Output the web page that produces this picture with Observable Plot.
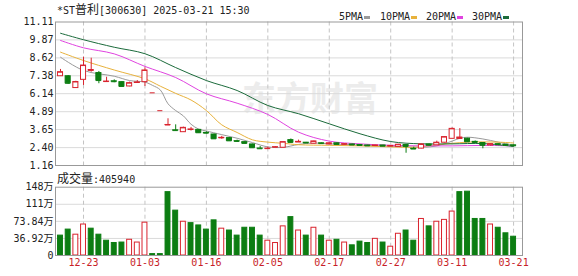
<!DOCTYPE html>
<html><head><meta charset="utf-8">
<script src="https://cdn.jsdelivr.net/npm/d3@7"></script>
<script src="https://cdn.jsdelivr.net/npm/@observablehq/plot@0.6"></script>
<style>
body{margin:0;background:#fff;}
#wrap{position:relative;width:578px;height:276px;overflow:hidden;background:#fff;font-family:"DejaVu Sans Mono","Noto Sans CJK SC",monospace;color:#222;}
.abs{position:absolute;white-space:nowrap;}
.m{font-family:"DejaVu Sans Mono",monospace;font-size:10px;}
.c{font-family:"Noto Sans CJK SC",sans-serif;font-size:12px;}
.sw{position:absolute;width:6px;height:3px;}
#wm{position:absolute;left:242px;top:72px;font-family:"Noto Sans CJK SC";font-weight:bold;font-size:34px;color:#ececec;letter-spacing:0px;}
svg{position:absolute;left:0;}
</style></head>
<body>
<div id="wrap">
  <div id="wm">东方财富</div>
  <div class="abs" id="title" style="left:57px;top:1px;line-height:16px;"><span class="m">*ST</span><span class="c">普利</span><span class="m">[300630] 2025-03-21 15:30</span></div>
  <div id="legend"></div>
  <div class="abs" style="left:57px;top:170px;line-height:16px;"><span class="c">成交量</span><span class="m">:405940</span></div>
</div>
<script>
// ---- data ----
const tickIdx = [3, 11, 19, 27, 35, 43, 51, 59];
const tickLabels = ["12-23", "01-03", "01-16", "02-05", "02-17", "02-27", "03-11", "03-21"];

const open  = [7.35,7.35,6.53,7.10,7.72,7.57,6.96,7.00,6.94,6.64, 6.88,6.94,6.20,4.96,3.96,3.60,3.47,3.64,3.63,3.42, 3.31,3.06,3.06,2.85,2.78,2.62,2.34,2.32,2.42,2.39, 2.92,2.77,2.74,2.67,2.70,2.62,2.70,2.61,2.62,2.58, 2.55,2.51,2.55,2.48,2.45,2.58,2.32,2.33,2.62,2.56, 2.74,3.01,3.00,3.02,2.80,2.72,2.55,2.64,2.60,2.56];
const close = [7.63,6.86,6.95,8.09,7.78,7.05,6.98,6.97,6.64,6.87, 6.92,7.75,6.20,4.96,3.97,3.58,3.77,3.66,3.43,3.40, 3.01,3.08,2.87,2.83,2.69,2.39,2.32,2.33,2.43,2.78, 2.76,2.80,2.72,2.83,2.68,2.70,2.62,2.64,2.58,2.55, 2.52,2.55,2.50,2.52,2.60,2.48,2.30,2.62,2.56,2.74, 3.13,3.70,3.10,2.80,2.76,2.56,2.64,2.60,2.56,2.52];
const high  = [7.82,7.40,7.00,8.67,8.60,7.68,7.28,7.10,6.98,6.94, 7.05,7.93,6.20,4.96,4.40,3.98,3.82,3.80,3.66,3.50, 3.33,3.18,3.08,2.92,2.80,2.64,2.48,2.44,2.45,2.80, 3.00,2.92,2.76,2.85,2.72,2.72,2.72,2.66,2.64,2.60, 2.56,2.57,2.56,2.54,2.62,2.60,2.43,2.66,2.64,2.85, 3.15,3.76,3.72,3.05,2.86,2.74,2.66,2.66,2.62,2.58];
const low   = [7.35,6.80,6.50,6.71,7.63,6.83,6.96,6.90,6.62,6.62, 6.86,6.64,6.20,4.96,3.96,3.57,3.45,3.55,3.40,3.35, 3.00,2.98,2.86,2.76,2.68,2.38,2.31,2.31,2.40,2.38, 2.74,2.76,2.70,2.65,2.66,2.60,2.60,2.58,2.56,2.53, 2.50,2.50,2.48,2.46,2.44,2.01,2.29,2.32,2.52,2.55, 2.72,3.00,2.96,2.76,2.72,2.32,2.52,2.56,2.52,2.48];

// volume in 万 (10k shares)
const volume = [43,56,45,67,58,45,32,27,28,34, 28,71,3,3,137,97,73,70,65,56, 76,58,54,43,60,60,43,32,27,63, 83,54,43,60,43,32,34,28,22,30, 27,36,28,19,47,54,32,79,63,73, 77,95,137,138,79,79,67,60,48,40.594];
// 1 = up vs previous close (red, hollow), 0 = down (green, filled)
const volUp  = [0,0,1,1,0,0,0,0,0,1, 1,1,0,0,0,0,1,0,0,0, 0,1,0,0,0,0,0,1,1,1, 0,1,0,1,0,1,0,1,0,0, 0,1,0,1,1,0,0,1,0,1, 1,1,0,0,0,0,1,0,0,0];

// moving averages read at sampled bars
const ma5Idx  = [0,3,7,9,11,12,13,14,15,16,17,18,19,21,23,25,27,29,31,33,35,37,39,41,43,45,47,49,51,52,53,55,57,59];
const ma5Val  = [8.67,7.75,7.35,7.05,6.94,6.71,6.40,5.44,4.97,4.60,4.02,3.68,3.55,3.30,3.05,2.75,2.45,2.42,2.62,2.72,2.66,2.62,2.57,2.53,2.50,2.45,2.42,2.52,2.85,3.05,3.12,3.00,2.78,2.55];
const ma10Idx = [0,3,7,11,13,15,17,19,21,23,25,27,29,31,35,39,43,45,47,49,51,53,55,57,59];
const ma10Val = [9.02,8.44,7.78,7.17,6.66,6.16,5.70,4.97,3.98,3.45,2.94,2.78,2.70,2.60,2.56,2.52,2.45,2.42,2.46,2.60,2.70,2.78,2.80,2.78,2.72];
const ma20Idx = [0,3,7,11,15,19,23,27,31,35,39,43,47,51,55,59];
const ma20Val = [9.83,9.32,8.90,8.03,7.26,6.13,5.48,4.70,3.47,2.85,2.66,2.56,2.52,2.52,2.55,2.52];
const ma30Idx = [0,3,7,11,15,19,23,27,31,35,39,43,47,51,55,59];
const ma30Val = [10.33,9.88,9.36,8.91,7.95,7.05,6.36,5.32,4.75,4.05,3.36,2.82,2.66,2.66,2.68,2.48];

const priceTicks = [1.16, 2.40, 3.65, 4.89, 6.14, 7.38, 8.62, 9.87, 11.11];
const priceTickLabels = ["1.16","2.40","3.65","4.89","6.14","7.38","8.62","9.87","11.11"];
const volTicks = [0, 36.92, 73.84, 110.76, 147.68];
const volTickLabels = ["0","36.92万","73.84万","111万","148万"];

const legendNames = ["5PMA","10PMA","20PMA","30PMA"];

// ---- styles ----
const RED = "#d9232d", GREEN = "#0c7d12";
const MA_COLORS = ["#9a9a9a", "#e8b23c", "#e044e0", "#1b6b3b"];
const GRID = "#dadada", FRAME = "#999", DASH = "#c4c4c4";
const XDOM = [-0.65, 60.16];
const FONT = "DejaVu Sans Mono";

const rows = open.map((o, i) => ({i, o, c: close[i], h: high[i], l: low[i], up: close[i] >= open[i]}));
const vrows = volume.map((v, i) => ({i, v, up: volUp[i] === 1}));
const maSets = [[ma5Idx, ma5Val], [ma10Idx, ma10Val], [ma20Idx, ma20Val], [ma30Idx, ma30Val]];
const labelMap = new Map(tickIdx.map((t, k) => [t, tickLabels[k]]));

const wrap = document.getElementById("wrap");

// legend
const legendX = [339, 380, 426, 472];
const legend = document.getElementById("legend");
legendNames.forEach((n, k) => {
  const s = document.createElement("span");
  s.className = "abs m"; s.textContent = n;
  s.style.left = legendX[k] + "px"; s.style.top = "10px"; s.style.lineHeight = "14px";
  legend.appendChild(s);
  const w = document.createElement("div");
  w.className = "sw"; w.style.background = MA_COLORS[k];
  w.style.left = (legendX[k] + n.length * 6 + 1) + "px"; w.style.top = "16px";
  legend.appendChild(w);
});

const price = Plot.plot({
  width: 578, height: 170,
  marginLeft: 55, marginRight: 56, marginTop: 21.5, marginBottom: 5,
  style: {background: "transparent", overflow: "visible"},
  x: {domain: XDOM, axis: null},
  y: {domain: [1.16, 11.11], axis: null},
  marks: [
    Plot.ruleY(priceTicks.slice(1, -1), {stroke: GRID}),
    Plot.ruleX(tickIdx, {stroke: DASH, strokeDasharray: "4,3"}),
    ...maSets.map(([ix, vals], k) => Plot.line(ix.map((x, j) => ({x, y: vals[j]})),
      {x: "x", y: "y", stroke: MA_COLORS[k], strokeWidth: 1, curve: "catmull-rom"})),
    Plot.ruleX(rows, {x: "i", y1: "l", y2: "h", stroke: d => d.up ? RED : GREEN, strokeWidth: 1}),
    Plot.rect(rows, {x1: d => d.i - 0.33, x2: d => d.i + 0.33,
      y1: d => Math.min(d.o, d.c), y2: d => Math.max(d.o, d.c),
      fill: d => d.up ? "white" : GREEN, stroke: d => d.up ? RED : GREEN, strokeWidth: 1}),
    Plot.ruleY(rows, {y: "c", x1: d => d.i - 0.33, x2: d => d.i + 0.33, stroke: d => d.up ? RED : GREEN}),
    Plot.frame({stroke: FRAME}),
    Plot.text(priceTicks.map((v, k) => ({v, t: priceTickLabels[k]})),
      {y: "v", text: "t", frameAnchor: "left", dx: -2, textAnchor: "end",
       fontFamily: FONT, fontSize: 10, fill: "#222"})
  ]
});
price.style.top = "0px";
wrap.appendChild(price);

const vol = Plot.plot({
  width: 578, height: 106,
  marginLeft: 55, marginRight: 56, marginTop: 16.7, marginBottom: 21,
  style: {background: "transparent", overflow: "visible"},
  x: {domain: XDOM, axis: null},
  y: {domain: [0, 147.68], axis: null},
  marks: [
    Plot.ruleY(volTicks.slice(1, -1), {stroke: GRID}),
    Plot.ruleX(tickIdx, {stroke: DASH, strokeDasharray: "4,3"}),
    Plot.rectY(vrows, {x1: d => d.i - 0.32, x2: d => d.i + 0.32, y: "v",
      fill: d => d.up ? "white" : GREEN, stroke: d => d.up ? RED : GREEN, strokeWidth: 1}),
    Plot.frame({stroke: FRAME}),
    Plot.text(volTicks.map((v, k) => ({v, t: volTickLabels[k]})),
      {y: "v", text: "t", frameAnchor: "left", dx: -2, textAnchor: "end",
       fontFamily: "DejaVu Sans Mono, Noto Sans CJK SC", fontSize: 10, fill: "#222"}),
    Plot.text(tickIdx, {x: d => d, text: d => labelMap.get(d), frameAnchor: "bottom", dy: 10.5,
      fontFamily: FONT, fontSize: 10, fill: "#c81e28"})
  ]
});
vol.style.top = "170px";
wrap.appendChild(vol);
</script>
</body></html>
